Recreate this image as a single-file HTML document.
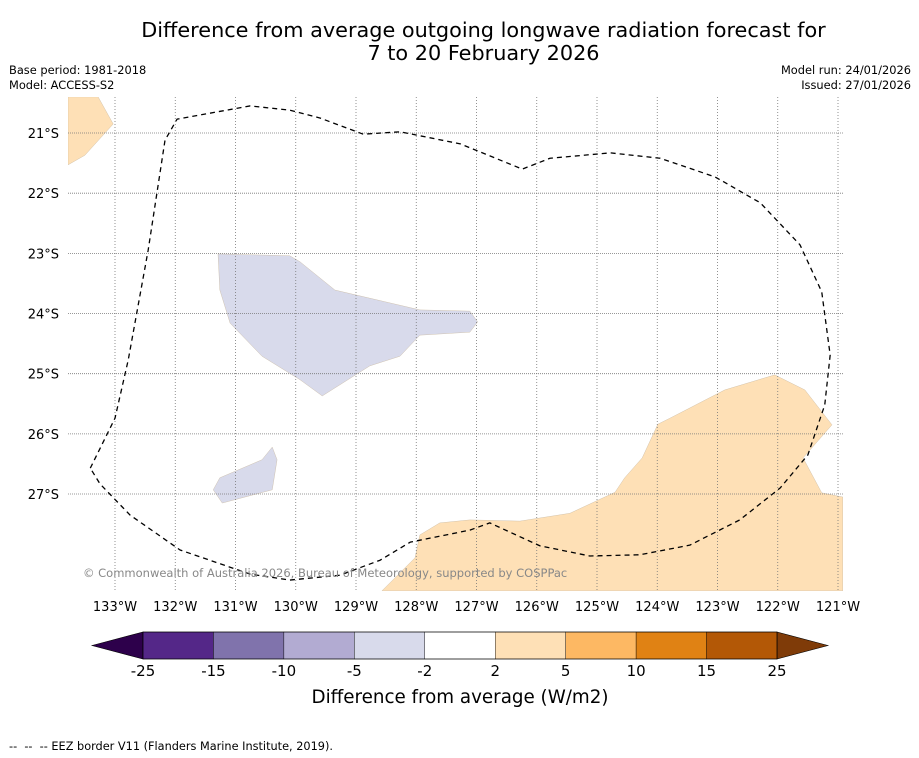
<!DOCTYPE html>
<html><head><meta charset="utf-8"><style>
body{margin:0;background:#fff;font-family:"DejaVu Sans","Liberation Sans",sans-serif;}
#wrap{position:relative;width:919px;height:758px;overflow:hidden;background:#fff}
.t{position:absolute;white-space:nowrap;color:#000}
</style></head><body>
<div id="wrap">
<div class="t" style="left:0;width:967px;text-align:center;top:19px;font-size:20.8px;line-height:23px">Difference from average outgoing longwave radiation forecast for<br>7 to 20 February 2026</div>
<div class="t" style="left:9px;top:63px;font-size:11.4px;line-height:15px">Base period: 1981-2018<br>Model: ACCESS-S2</div>
<div class="t" style="right:8px;top:63px;font-size:11.4px;line-height:15px;text-align:right">Model run: 24/01/2026<br>Issued: 27/01/2026</div>
<svg id="map" width="919" height="758" style="position:absolute;left:0;top:0"></svg>
<div class="t" style="left:9px;top:740px;font-size:11.3px">--&nbsp; --&nbsp; -- EEZ border V11 (Flanders Marine Institute, 2019).</div>
</div>
<script>
const lonTicks=[-133,-132,-131,-130,-129,-128,-127,-126,-125,-124,-123,-122,-121];
const latTicks=[-21,-22,-23,-24,-25,-26,-27];
const purpleMain=[[-131.29,-23.01],[-130.10,-23.04],[-129.93,-23.14],[-129.35,-23.61],[-127.94,-23.94],[-127.11,-23.96],[-126.98,-24.14],[-127.11,-24.31],[-127.94,-24.36],[-128.27,-24.71],[-128.77,-24.87],[-129.56,-25.37],[-129.93,-25.10],[-130.56,-24.71],[-131.09,-24.16],[-131.26,-23.61]];
const purpleSmall=[[-131.26,-26.73],[-130.56,-26.43],[-130.39,-26.22],[-130.31,-26.43],[-130.39,-26.93],[-131.22,-27.15],[-131.37,-26.93]];
const orangeMain=[[-128.57,-28.61],[-128.02,-28.06],[-127.94,-27.68],[-127.61,-27.48],[-127.11,-27.43],[-126.28,-27.45],[-125.45,-27.32],[-124.70,-26.97],[-124.54,-26.73],[-124.25,-26.40],[-123.99,-25.84],[-123.79,-25.74],[-122.88,-25.27],[-122.05,-25.02],[-121.55,-25.27],[-121.10,-25.85],[-121.58,-26.40],[-121.27,-26.98],[-120.92,-27.05],[-120.92,-28.61]];
const orangeCorner=[[-133.78,-20.40],[-133.28,-20.40],[-133.03,-20.85],[-133.50,-21.37],[-133.78,-21.53]];
const eez=[[-133.41,-26.57],[-133,-25.74],[-132.78,-24.77],[-132.45,-22.95],[-132.17,-21.12],[-131.97,-20.77],[-130.76,-20.55],[-130.10,-20.62],[-129.60,-20.75],[-128.88,-21.02],[-128.27,-20.98],[-127.27,-21.18],[-126.24,-21.60],[-125.78,-21.42],[-124.78,-21.33],[-123.95,-21.42],[-123.04,-21.73],[-122.29,-22.16],[-121.63,-22.86],[-121.27,-23.64],[-121.13,-24.69],[-121.22,-25.52],[-121.50,-26.35],[-121.96,-26.90],[-122.63,-27.43],[-123.46,-27.85],[-124.29,-28.01],[-125.12,-28.03],[-125.95,-27.86],[-126.78,-27.48],[-127.11,-27.60],[-128.10,-27.80],[-128.60,-28.10],[-129.27,-28.35],[-130.10,-28.43],[-130.76,-28.33],[-131.92,-27.93],[-132.75,-27.35],[-133.25,-26.83],[-133.41,-26.57]];
const cbBounds=[-25,-15,-10,-5,-2,2,5,10,15,25];
const cbColors=["#542788","#8073ac","#b2abd2","#d8daeb","#ffffff","#fee0b6","#fdb863","#e08214","#b35806"];
const NS="http://www.w3.org/2000/svg";
const svg=document.getElementById('map');
const X=lon=>115+(lon+133)*60.25, Y=lat=>133-(lat+21)*60.17;
function mk(tag,at,parent){const e=document.createElementNS(NS,tag);for(const k in at)e.setAttribute(k,at[k]);(parent||svg).appendChild(e);return e;}
const cp=mk('clipPath',{id:'clip'});mk('rect',{x:68,y:97,width:775,height:494},cp);
const g=mk('g',{'clip-path':'url(#clip)'});
function poly(pts,fill,name){const p=mk('polygon',{points:pts.map(q=>X(q[0])+','+Y(q[1])).join(' '),fill:fill,stroke:'#c8b8a0','stroke-width':0.4},g);

}
poly(orangeMain,'#fee0b6','anomaly-positive-southeast');
poly(orangeCorner,'#fee0b6','anomaly-positive-northwest');
poly(purpleMain,'#d8daeb','anomaly-negative-central');
poly(purpleSmall,'#d8daeb','anomaly-negative-small');
lonTicks.forEach(l=>{const x=X(l);
const ln=mk('line',{x1:x,x2:x,y1:97,y2:591,stroke:'#777','stroke-width':0.8,'stroke-dasharray':'1,2'},g);


const t=mk('text',{x:x,y:611,'font-size':13,'text-anchor':'middle','font-family':'DejaVu Sans, sans-serif'});t.textContent=Math.abs(l)+'°W';

});
latTicks.forEach(l=>{const y=Y(l);
const ln=mk('line',{x1:68,x2:843,y1:y,y2:y,stroke:'#777','stroke-width':0.8,'stroke-dasharray':'1,1'},g);


const t=mk('text',{x:59,y:y+5,'font-size':13,'text-anchor':'end','font-family':'DejaVu Sans, sans-serif'});t.textContent=Math.abs(l)+'°S';

});
const e=mk('polyline',{points:eez.map(q=>X(q[0])+','+Y(q[1])).join(' '),fill:'none',stroke:'#000','stroke-width':1.3,'stroke-dasharray':'5,4','stroke-linejoin':'round'},g);


const c=mk('text',{x:83,y:577,'font-size':11.5,fill:'#888','font-family':'DejaVu Sans, sans-serif'});c.textContent='© Commonwealth of Australia 2026, Bureau of Meteorology, supported by COSPPac';


const cbx0=143,cbw=634,cby=632,cbh=27,n=cbColors.length,bw=cbw/n;
const lt=mk('polygon',{points:`92,${cby+cbh/2} ${cbx0},${cby} ${cbx0},${cby+cbh}`,fill:'#2d004b',stroke:'#000','stroke-width':0.6});


const rt=mk('polygon',{points:`828,${cby+cbh/2} ${cbx0+cbw},${cby} ${cbx0+cbw},${cby+cbh}`,fill:'#7f3b08',stroke:'#000','stroke-width':0.6});


cbColors.forEach((col,i)=>{const r=mk('rect',{x:cbx0+i*bw,y:cby,width:bw,height:cbh,fill:col,stroke:'#000','stroke-width':0.4});

});
mk('rect',{x:cbx0,y:cby,width:cbw,height:cbh,fill:'none',stroke:'#000','stroke-width':0.6});
cbBounds.forEach((b,i)=>{const t=mk('text',{x:cbx0+i*bw,y:676,'font-size':15,'text-anchor':'middle','font-family':'DejaVu Sans, sans-serif'});t.textContent=b;

});
const ct=mk('text',{x:460,y:703,'font-size':18.3,'text-anchor':'middle','font-family':'DejaVu Sans, sans-serif'});ct.textContent='Difference from average (W/m2)';


</script>
</body></html>
